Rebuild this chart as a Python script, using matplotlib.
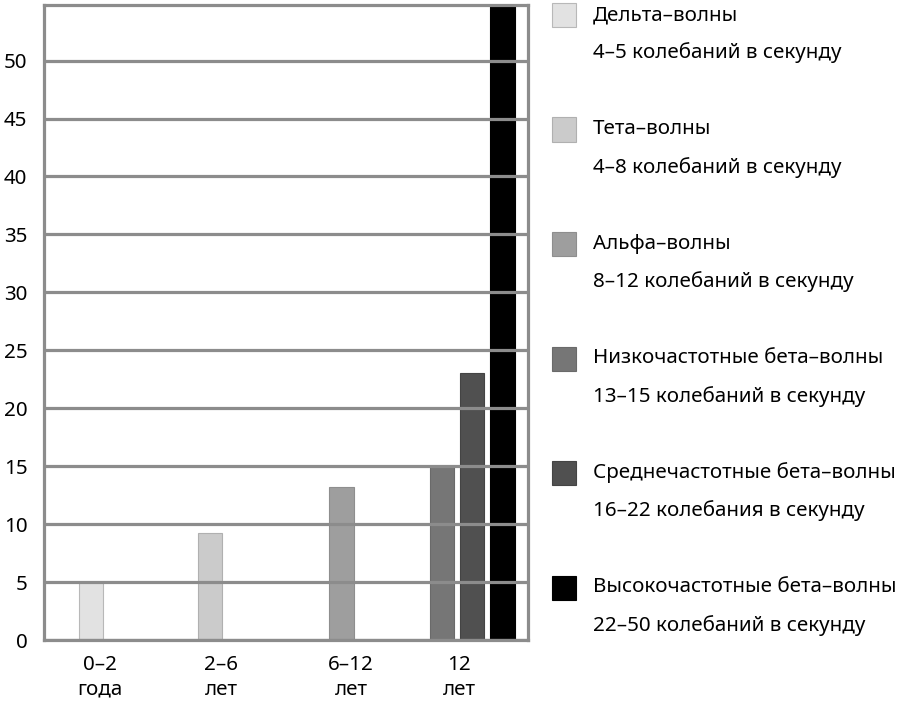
import matplotlib
matplotlib.use("Agg")
import matplotlib.pyplot as plt
from matplotlib.patches import Rectangle

plt.rcParams["font.family"] = ["Noto Sans", "DejaVu Sans"]

# data
CATEGORIES = ["0–2\nгода", "2–6\nлет", "6–12\nлет", "12\nлет"]
SERIES = [
    "Дельта–волны",
    "Тета–волны",
    "Альфа–волны",
    "Низкочастотные бета–волны",
    "Среднечастотные бета–волны",
    "Высокочастотные бета–волны",
]
SUBTITLES = [
    "4–5 колебаний в секунду",
    "4–8 колебаний в секунду",
    "8–12 колебаний в секунду",
    "13–15 колебаний в секунду",
    "16–22 колебания в секунду",
    "22–50 колебаний в секунду",
]
VALUES = [5, 9.2, 13.2, 15, 23, 55]
COLORS = ["#e2e2e2", "#cbcbcb", "#9e9e9e", "#767676", "#505050", "#000000"]
EDGES = ["#b8b8b8", "#b0b0b0", "#8e8e8e", "#6a6a6a", "#444444", "#000000"]

# layout (axis units = pixels inside the frame)
TICK_POS = [56, 177, 307, 415]
BAR_POS = [47, 166, 297.5, 398, 428, 458.5]
BAR_W = 24.5
GRID = "#8c8c8c"
FS = 14.8

fig = plt.figure(figsize=(9, 7.11), dpi=100)
ax = fig.add_axes([44 / 900, 71 / 711, 484 / 900, 635 / 711])

for i, name in enumerate(SERIES):
    ax.bar(BAR_POS[i], VALUES[i], width=BAR_W, color=COLORS[i],
           edgecolor=EDGES[i], linewidth=0.8, zorder=1)

ax.set_xlim(0, 484)
ax.set_ylim(0, 54.8)
ax.set_yticks(range(0, 55, 5))
ax.set_xticks(TICK_POS)
ax.set_xticklabels(CATEGORIES, fontsize=FS, linespacing=1.3)
ax.tick_params(axis="both", length=0, labelsize=FS)
ax.tick_params(axis="y", pad=12)
ax.tick_params(axis="x", pad=11)
ax.set_axisbelow(False)
ax.yaxis.grid(True, color=GRID, linewidth=2.3, zorder=2.5)
for s in ax.spines.values():
    s.set_color(GRID)
    s.set_linewidth(2.3)
    s.set_zorder(3)

# legend on the right
top0 = 15
step = 114.5
for i in range(len(SERIES)):
    cy = top0 + step * i
    fig.add_artist(Rectangle((552 / 900, 1 - (cy + 12) / 711), 24 / 900, 24 / 711,
                             transform=fig.transFigure, facecolor=COLORS[i],
                             edgecolor=EDGES[i], linewidth=0.8))
    fig.text(593 / 900, 1 - cy / 711, SERIES[i], fontsize=FS, va="center", ha="left")
    fig.text(593 / 900, 1 - (cy + 38) / 711, SUBTITLES[i], fontsize=FS, va="center", ha="left")

fig.savefig("out.png", dpi=100)
